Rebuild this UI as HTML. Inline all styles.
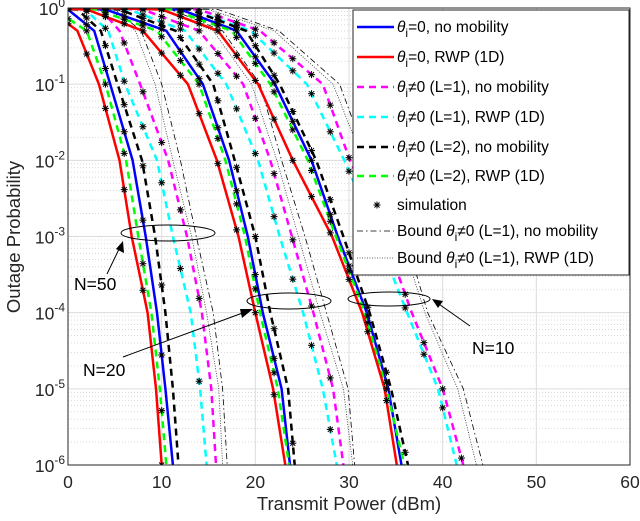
<!DOCTYPE html>
<html><head><meta charset="utf-8"><style>
body{margin:0;background:#fff}
svg{display:block;font-family:"Liberation Sans",sans-serif}
</style></head><body>
<svg id="chart" width="640" height="521" viewBox="0 0 640 521">
<defs><clipPath id="clip"><rect x="68" y="8" width="562" height="457"/></clipPath></defs>
<rect x="0" y="0" width="640" height="521" fill="#fff"/>
<g id="grid"></g>
<g id="curves" clip-path="url(#clip)"></g>
<g id="sims" clip-path="url(#clip)"></g>
<rect x="68" y="8" width="562" height="457" fill="none" stroke="#262626" stroke-width="1"/>
<g id="axes"></g>
<text x="349" y="510" text-anchor="middle" font-size="18.5" fill="#262626">Transmit Power (dBm)</text>
<text x="20" y="237" text-anchor="middle" font-size="18.5" fill="#262626" transform="rotate(-90 20 237)">Outage Probability</text>
<g fill="none" stroke="#000" stroke-width="1">
<ellipse cx="168" cy="233" rx="47" ry="8"/>
<ellipse cx="289" cy="301" rx="42" ry="8"/>
<ellipse cx="389" cy="299" rx="41" ry="7"/>
<line x1="107" y1="274" x2="121" y2="245"/>
<line x1="123" y1="357" x2="248" y2="311"/>
<line x1="470" y1="326" x2="436" y2="302"/>
</g>
<g fill="#000">
<polygon points="123,241 124,253 116,249"/>
<polygon points="253,309 242,318 240,309"/>
<polygon points="432,299 443,301 438,308"/>
</g>
<text x="74" y="290" font-size="17.5">N=50</text>
<text x="83" y="376" font-size="17.5">N=20</text>
<text x="472" y="354" font-size="17.5">N=10</text>
<g id="legend"></g>
</svg>
<script>
const levels = [0, -0.02, -0.3, -1, -2, -3, -4, -5, -6];
const xTicks = [0,10,20,30,40,50,60];
const yTickExp = [0,-1,-2,-3,-4,-5,-6];
const simX = [0,2,4,6,8,10,12,14,16,18,20,22,24,26,28,30,32,34,36,38,40,42,44];
const n50Red = [-8,-2,1.0,3.3,5.5,6.8,8.5,9.4,10.0];
const n50Green = [-7.5,-1.5,2.0,4.0,6.2,7.5,8.9,9.8,10.5];
const n50Blue = [-6,0.0,2.8,4.5,6.9,8.3,9.5,10.4,11.2];
const n50Black = [-5,1.0,3.5,5.3,7.9,9.3,10.4,11.2,11.8];
const n50Cyan = [-4,1.8,4.3,6.1,9.5,11.2,13.1,14.1,14.8];
const n50Magenta = [-2,3.5,5.5,7.7,10.7,12.7,14.3,15.3,15.8];
const n50Dotted = [-2,4.5,7.2,9.3,11.2,13.2,14.8,16.1,16.5];
const n50DashDot = [-1.5,5,7.8,10.0,12.0,13.7,15.5,16.5,17.0];
const n20Red = [-4,2,8.0,12.8,15.9,18.2,20.0,21.9,23.2];
const n20Green = [-3,3,9.5,14.0,16.8,18.9,20.5,22.4,23.6];
const n20Blue = [-2,4,10.5,14.4,17.2,19.2,20.8,22.8,23.7];
const n20Black = [-0.5,5.5,11.5,15.5,17.8,20.0,21.6,23.5,24.2];
const n20Cyan = [0.5,6.5,12.5,16.9,20.3,22.6,25.1,27.2,28.7];
const n20Magenta = [2,8,14,18.7,21.6,23.9,26.2,28.3,29.4];
const n20Dotted = [4,10,15.5,19.6,22.3,24.6,26.9,29.4,30.4];
const n20DashDot = [5,11,16.5,20.5,22.8,25.3,27.6,29.9,30.6];
const n10Red = [4,10,16.0,20.3,24.0,28.2,31.4,33.8,35.1];
const n10Green = [5,11,17.5,21.6,25.6,28.6,31.7,34.0,35.9];
const n10Blue = [6,12,18.0,22.1,26.0,28.8,31.9,34.2,35.6];
const n10Black = [7,13,19.0,22.6,26.5,29.4,32.2,34.5,36.3];
const n10Cyan = [7,13,19.5,25.5,29.5,33.0,36.2,39.5,41.5];
const n10Magenta = [8,14,20.5,27.2,30.1,33.8,36.7,40.0,42.2];
const n10Dotted = [9,15,22.0,28.3,31.5,35.5,38.1,41.6,43.6];
const n10DashDot = [10,16,22.5,29.0,32.0,36.0,38.4,42.2,44.3];

const NS='http://www.w3.org/2000/svg';
const X0=68,X1=630,Y0=8,Y1=465;
function sx(v){return X0+(v-0)/(60-0)*(X1-X0);}
function sy(l){return Y0+(0-l)/6*(Y1-Y0);}
function mk(tag,attrs,parent){const e=document.createElementNS(NS,tag);for(const k in attrs)e.setAttribute(k,attrs[k]);parent.appendChild(e);return e;}

const grid=document.getElementById('grid');
for(let d=0;d>-6;d--){for(let m=2;m<=9;m++){const l=d-1+Math.log10(m);const y=sy(l);
const g=mk('line',{x1:X0,x2:X1,y1:y,y2:y,stroke:'#d0d0d0','stroke-width':0.8,'stroke-dasharray':'1,2'},grid);

}}
yTickExp.forEach(e=>{const y=sy(e);const g=mk('line',{x1:X0,x2:X1,y1:y,y2:y,stroke:'#dcdcdc','stroke-width':1},grid);

});
xTicks.forEach(v=>{const x=sx(v);const g=mk('line',{x1:x,x2:x,y1:Y0,y2:Y1,stroke:'#dcdcdc','stroke-width':1},grid);

});

const axes=document.getElementById('axes');
xTicks.forEach(v=>{const t=mk('text',{x:sx(v),y:Y1+23,'text-anchor':'middle','font-size':17.5,fill:'#262626'},axes);t.textContent=v;

});
yTickExp.forEach(e=>{const t=mk('text',{x:X0-3,y:sy(e)+7,'text-anchor':'end','font-size':17.5,fill:'#262626'},axes);


t.innerHTML='10<tspan dy="-8" font-size="12">'+e+'</tspan>';});

const styles={
 red:{stroke:'#ff0000',w:2.5,dash:''},green:{stroke:'#00ff00',w:2.5,dash:'7,5'},blue:{stroke:'#0000ff',w:2.5,dash:''},
 black:{stroke:'#000',w:2.5,dash:'7,5'},cyan:{stroke:'#00ffff',w:2.5,dash:'7,5'},magenta:{stroke:'#ff00ff',w:2.5,dash:'7,5'},
 dotted:{stroke:'#333',w:0.8,dash:'1,1.5'},dashdot:{stroke:'#000',w:0.8,dash:'6,3,1.5,3'}};
const series=[
 ['n50','red',n50Red],['n50','green',n50Green],['n50','blue',n50Blue],['n50','black',n50Black],['n50','cyan',n50Cyan],['n50','magenta',n50Magenta],['n50','dotted',n50Dotted],['n50','dashdot',n50DashDot],
 ['n20','red',n20Red],['n20','green',n20Green],['n20','blue',n20Blue],['n20','black',n20Black],['n20','cyan',n20Cyan],['n20','magenta',n20Magenta],['n20','dotted',n20Dotted],['n20','dashdot',n20DashDot],
 ['n10','red',n10Red],['n10','green',n10Green],['n10','blue',n10Blue],['n10','black',n10Black],['n10','cyan',n10Cyan],['n10','magenta',n10Magenta],['n10','dotted',n10Dotted],['n10','dashdot',n10DashDot]];
const order=['dotted','dashdot','magenta','cyan','black','blue','green','red'];
const curves=document.getElementById('curves'),sims=document.getElementById('sims');
function levelAt(xs,v){if(v<=xs[0])return 0;for(let i=1;i<xs.length;i++){if(v<=xs[i]){const t=(v-xs[i-1])/(xs[i]-xs[i-1]);return levels[i-1]+t*(levels[i]-levels[i-1]);}}return null;}
order.forEach(c=>{series.filter(s=>s[1]===c).forEach(s=>{const st=styles[c];const xs=s[2];
 let d='M'+sx(xs[0]-10)+','+sy(0);xs.forEach((v,i)=>{d+='L'+sx(v).toFixed(1)+','+sy(levels[i]).toFixed(1);});
 const p=mk('path',{d:d,fill:'none',stroke:st.stroke,'stroke-width':st.w,'stroke-dasharray':st.dash},curves);
 
 });});
series.filter(s=>['red','green','blue','black','cyan','magenta'].includes(s[1])).forEach(s=>{
 simX.forEach(v=>{const l=levelAt(s[2],v);if(l===null||l>-0.01)return;const cx=sx(v),cy=sy(l),r=3.5;
 const g=mk('g',{stroke:'#000','stroke-width':1},sims);
 
 
 mk('line',{x1:cx-r,x2:cx+r,y1:cy,y2:cy},g);mk('line',{x1:cx,x2:cx,y1:cy-r,y2:cy+r},g);
 mk('line',{x1:cx-2.5,x2:cx+2.5,y1:cy-2.5,y2:cy+2.5},g);mk('line',{x1:cx-2.5,x2:cx+2.5,y1:cy+2.5,y2:cy-2.5},g);});});

const legend=document.getElementById('legend');
const lb=mk('rect',{x:353,y:10,width:276,height:265,fill:'#fff',stroke:'#262626','stroke-width':1},legend);


const th='<tspan font-style="italic">θ</tspan><tspan dy="5" font-size="12">i</tspan><tspan dy="-5">';
const entries=[['blue',th+'=0, no mobility</tspan>'],['red',th+'=0, RWP (1D)</tspan>'],['magenta',th+'≠0 (L=1), no mobility</tspan>'],
 ['cyan',th+'≠0 (L=1), RWP (1D)</tspan>'],['black',th+'≠0 (L=2), no mobility</tspan>'],['green',th+'≠0 (L=2), RWP (1D)</tspan>'],
 ['sim','simulation'],['dashdot','Bound '+th+'≠0 (L=1), no mobility</tspan>'],['dotted','Bound '+th+'≠0 (L=1), RWP (1D)</tspan>']];
const ly=[27,57,87,117,147,176,205,231,258];
entries.forEach((e,i)=>{const y=ly[i];const g=mk('g',{},legend);
 
 
 if(e[0]==='sim'){const cx=377,r=3.5;const s=mk('g',{stroke:'#000','stroke-width':1},g);
  mk('line',{x1:cx-r,x2:cx+r,y1:y,y2:y},s);mk('line',{x1:cx,x2:cx,y1:y-r,y2:y+r},s);
  mk('line',{x1:cx-2.5,x2:cx+2.5,y1:y-2.5,y2:y+2.5},s);mk('line',{x1:cx-2.5,x2:cx+2.5,y1:y+2.5,y2:y-2.5},s);}
 else{const st=styles[e[0]];mk('line',{x1:357,x2:394,y1:y,y2:y,stroke:st.stroke,'stroke-width':st.w,'stroke-dasharray':st.dash},g);}
 const t=mk('text',{x:397,y:y+5,'font-size':15.5,fill:'#000'},g);t.innerHTML=e[1];});
</script>
</body></html>
